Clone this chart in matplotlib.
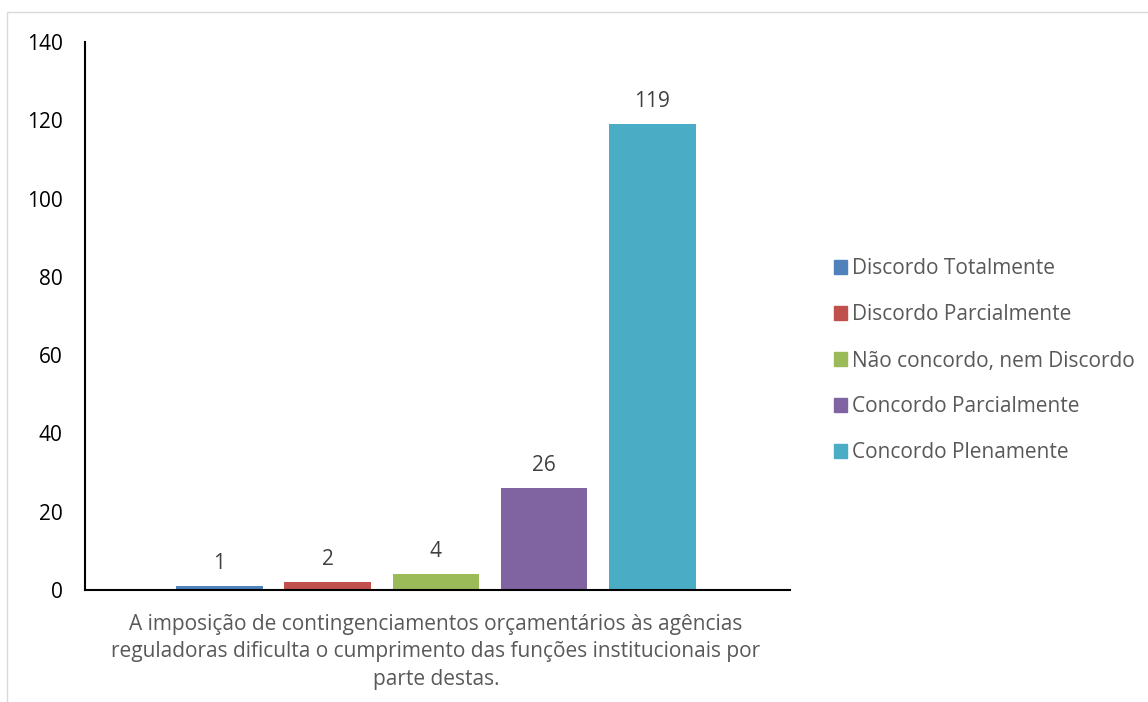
import matplotlib.pyplot as plt
from matplotlib.patches import Rectangle, Patch

# Dados
respostas = ["Discordo Totalmente", "Discordo Parcialmente", "Não concordo, nem Discordo",
             "Concordo Parcialmente", "Concordo Plenamente"]
valores = [1, 2, 4, 26, 119]
cores = ["#4F81BD", "#C0504D", "#9BBB59", "#8064A2", "#4BACC6"]
yticks = [0, 20, 40, 60, 80, 100, 120, 140]
categoria = ("A imposição de contingenciamentos orçamentários às agências\n"
             "reguladoras dificulta o cumprimento das funções institucionais por\n"
             "parte destas.")

plt.rcParams['font.family'] = ['Open Sans', 'DejaVu Sans']
TXT = "#595959"
FS = 15

fig = plt.figure(figsize=(11.48, 7.02), dpi=100)
# borda cinza clara
fig.patches.append(Rectangle((7 / 1148, -0.1), 1.2, (702 - 12) / 702 + 0.1,
                             transform=fig.transFigure, fill=False,
                             edgecolor="#D9D9D9", linewidth=1))

ax = fig.add_axes([85 / 1148, (702 - 590) / 702, 705 / 1148, 548 / 702])
pos = list(range(len(valores)))
bars = ax.bar(pos, valores, width=0.8, color=cores)
for b, v in zip(bars, valores):
    ax.annotate(str(v), (b.get_x() + b.get_width() / 2, v), xytext=(0, 9),
                textcoords="offset points", ha="center", va="bottom",
                fontsize=FS, color="#404040")

ax.set_xlim(-1.24, 5.27)
ax.set_ylim(0, 140)
ax.set_yticks(yticks)
ax.tick_params(axis="y", length=0, pad=16, labelsize=FS, labelcolor="black")
ax.set_xticks([])
for s in ["top", "right"]:
    ax.spines[s].set_visible(False)
ax.spines["left"].set_linewidth(1.5)
ax.spines["bottom"].set_linewidth(1.5)

fig.text(436 / 1148, 1 - 652 / 702, categoria, ha="center", va="center",
         fontsize=FS, color=TXT, linespacing=1.38)

handles = [Patch(color=c, label=r) for c, r in zip(cores, respostas)]
fig.legend(handles=handles, loc="center left", bbox_to_anchor=(815 / 1148, 1 - 361 / 702),
           frameon=False, fontsize=FS, labelcolor=TXT, handlelength=0.65,
           handleheight=0.65, handletextpad=0.25, labelspacing=1.2)

fig.savefig("out.png", dpi=100)
